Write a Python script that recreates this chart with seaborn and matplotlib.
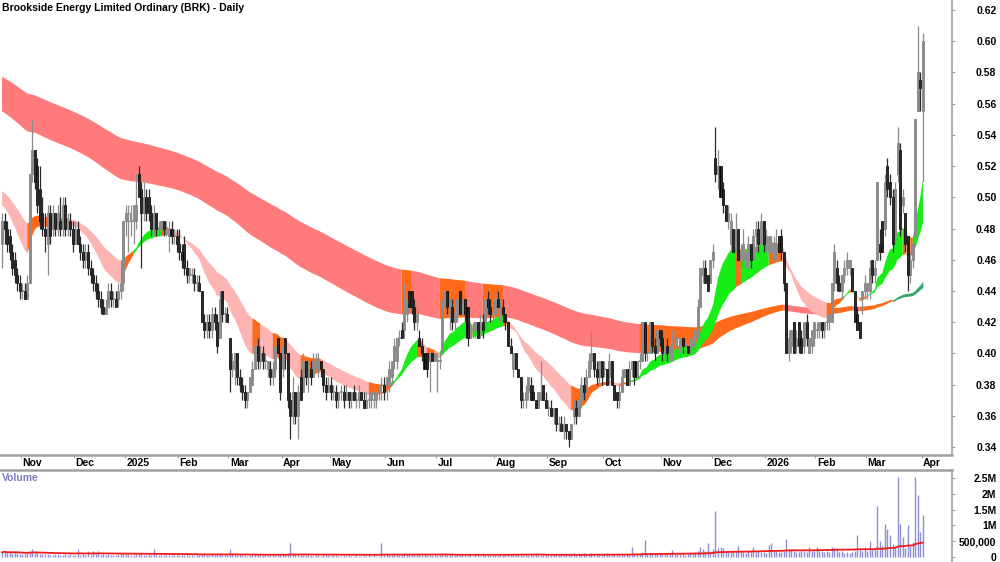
import numpy as np
import pandas as pd
import matplotlib
matplotlib.use("Agg")
import matplotlib.pyplot as plt
import seaborn as sns

# ---------------- data ----------------
# prices in cents, volumes in thousands, one value per trading day (Oct 22 2024 .. Apr 1 2026)
title = "Brookside Energy Limited Ordinary (BRK) - Daily"
holidays = ["2024-12-25", "2024-12-26", "2025-01-01", "2025-01-27", "2025-04-18", "2025-04-21",
            "2025-04-25", "2025-06-09", "2025-12-25", "2025-12-26", "2026-01-01", "2026-01-26"]

opens = [
    47, 48.5, 48, 47.5, 46.5, 46, 45, 44.5,
    44, 44, 43.5, 44.5, 51.5, 53, 52, 50.5, 49, 48, 47, 49, 48, 49, 48, 48.5, 48, 49.5, 48, 48.5, 48,
    47, 48, 47, 46.5, 46, 46.5, 45.5, 45, 44.5, 44, 43.5, 43, 42.5, 43, 44, 43.5, 43.5, 43.5, 44, 44.5,
    48.5, 48.5, 48.5, 48.5, 48.5, 51.5, 50.5, 49, 50, 50, 49, 48, 49, 48, 48, 48.5, 48, 47.5, 48, 47.5, 47.5,
    47, 46.5, 47, 45.5, 45, 45, 45, 44.5, 44.5, 44, 42, 41.5, 42, 41.5, 42.5, 42, 41, 44, 42.5, 42.5,
    41, 39, 39, 40, 38.5, 38, 37.5, 37, 37.5, 38, 39, 40.5, 39.5, 40, 39.5, 39, 39, 38.5, 39, 41, 40,
    39, 41, 40, 37, 36, 37.5, 36, 38.5, 37.5, 39.5, 38.5, 39, 38.5, 39.5, 39, 39.5, 39, 38, 37.5,
    38, 37.5, 37.5, 37, 37.5, 37.5, 37, 37.5, 37, 37.5, 37, 37, 37.5, 37, 36.5, 37, 37, 37, 37, 37.5, 37.5, 38,
    38, 38, 38.5, 39.5, 39.5, 41, 41.5, 41.5, 42.5, 44, 44, 43, 42, 41, 40.5, 40, 40, 39.5, 40, 39.5,
    39.5, 39.5, 40, 43, 44, 42.5, 43, 42, 42.5, 44, 42.5, 43.5, 43, 41, 41.5, 41.5, 42, 41.5, 42, 42, 43.5, 43, 42.5,
    42.5, 43.5, 43, 43, 42.5, 42, 40.5, 39, 40, 39, 38.5, 37, 37, 37.5, 38, 37.5, 37, 36.5, 37, 38, 37,
    36.5, 36.5, 36, 36.5, 35.5, 35.5, 35, 35.5, 35, 34.5, 36, 36.5, 36, 37, 38, 37.5, 38.5, 39.5, 40, 39, 38.5, 39.5,
    39, 39, 38.5, 39.5, 38, 37.5, 37, 37.5, 38.5, 39, 38, 39, 39.5, 38.5, 39.5, 39.5, 42, 40, 40, 42, 40.5, 40, 41.5,
    41, 40, 40.5, 40, 40, 41, 40.5, 40.5, 41, 40.5, 40.5, 40, 40.5, 41, 41, 43, 45, 45.5, 45, 44.5,
    46, 52.5, 51.5, 52, 50.5, 49.5, 48.5, 47, 48, 46.5, 48, 46, 46, 46, 46.5, 47, 46, 47.5, 48, 47, 48.5,
    47, 46.5, 46.5, 46.5, 46.5, 47.5, 47.5, 46.5, 44.5, 40, 40.5, 42, 40.5, 42, 41, 40.5, 42, 40, 40.5, 41,
    41.5, 41.5, 42, 41.5, 42, 42, 42, 44.5, 45.5, 44.5, 44, 45, 45.5, 45.5, 45.5, 44, 42.5, 42, 43.5, 44,
    44, 44, 46, 45, 46, 47, 48.5, 48, 52, 51, 50, 47.5, 51.5, 53, 49.5, 49, 47.5, 45, 46, 47.5, 55.5, 57.5,
    55.5,
]
highs = [
    49, 49, 48.5, 48, 47, 46.5, 45.5, 45,
    44.5, 44.5, 45, 51.5, 55, 53, 52.5, 52, 50, 49, 49.5, 49.5, 49.5, 49, 49.5, 50, 50, 50, 49, 49, 48.5,
    48.5, 48.5, 47.5, 47, 47, 47, 46, 45.5, 45, 44.5, 44, 43.5, 43.5, 44.5, 44.5, 44, 44, 44.5, 45, 48.5,
    49.5, 49.5, 49.5, 49.5, 51.5, 52, 51, 51, 50.5, 50.5, 49.5, 49.5, 49, 48.5, 48.5, 48.5, 48.5, 48.5, 48.5, 48, 48,
    48, 47, 47.5, 46, 45.5, 45.5, 45.5, 45, 45, 44, 42.5, 42.5, 42.5, 43, 43, 42.5, 44, 44, 43, 43,
    41, 40, 40, 40, 39, 38.5, 38, 37.5, 38.5, 39.5, 40.5, 41, 40.5, 40.5, 40, 39.5, 39.5, 39.5, 41, 41, 40,
    41, 41, 40, 37.5, 38.5, 37.5, 38, 39, 40, 39.5, 39.5, 39.5, 40, 40, 40, 39.5, 39, 38.5, 38.5,
    38.5, 38, 38, 37.5, 38, 38, 38, 37.5, 37.5, 38, 37.5, 38, 37.5, 37.5, 37.5, 37.5, 37.5, 37.5, 37.5, 38, 38.5, 38.5,
    38.5, 39.5, 39.5, 41, 41, 41.5, 42, 44.5, 44, 44, 44, 43.5, 43, 41.5, 41, 40, 40, 40, 40, 40,
    40, 40, 43.5, 44, 44, 43.5, 43.5, 43, 44, 44, 43.5, 43.5, 43, 42, 42, 42, 42, 42.5, 42.5, 43.5, 44, 43.5, 43,
    44, 44, 43.5, 43.5, 42.5, 42, 41, 40, 40, 39, 38.5, 37.5, 38, 38.5, 38.5, 38, 37, 37.5, 39.5, 38, 37.5,
    37, 37, 36.5, 36.5, 36, 36, 36, 35.5, 35, 35.5, 37, 37, 37.5, 38.5, 38.5, 39, 40, 41.5, 40, 39.5, 39.5, 39.5,
    39.5, 39, 40, 39.5, 38, 37.5, 38, 39, 39, 39, 39.5, 39.5, 39.5, 39.5, 40, 42, 42, 40.5, 42, 42, 41, 41.5, 41.5,
    41.5, 41, 41, 40.5, 41.5, 41.5, 41, 41, 41, 41, 40.5, 41, 41, 41.5, 43.5, 45.5, 46, 46, 45, 46,
    47, 54.5, 53, 52, 51, 49.5, 49.5, 49, 48, 49, 48, 47, 48, 46.5, 47.5, 47, 48, 48.5, 48.5, 49, 48.5,
    48, 47.5, 47.5, 47.5, 48, 47.5, 48, 46.5, 44.5, 41.5, 41.5, 42, 41.5, 42, 41.5, 42, 42.5, 41, 41.5, 42,
    42, 42, 42, 42, 42.5, 42.5, 44.5, 47, 46, 45, 45, 46, 46.5, 46, 45.5, 44, 43, 42, 44, 45,
    44.5, 46, 46, 46, 51, 48, 48.5, 51.5, 52.5, 51.5, 50.5, 51, 54.5, 53.5, 50.5, 49, 47.5, 46.5, 47.5, 55, 61, 58,
    60.5,
]
lows = [
    45.5, 47, 46.5, 46, 45, 44.5, 44, 43.5,
    43.5, 43.5, 43.5, 44.5, 51, 50.5, 49, 48, 47.5, 46.5, 45, 47, 47.5, 47.5, 47.5, 47.5, 47.5, 47.5, 47.5, 47.5, 46.5,
    47, 47, 46, 45.5, 45.5, 45, 44.5, 44, 43.5, 43, 42.5, 42.5, 42.5, 43, 43, 43, 43, 43, 43.5, 44,
    47.5, 46.5, 47.5, 47, 48, 50, 45.5, 48.5, 48.5, 48.5, 47.5, 47.5, 47.5, 47.5, 47.5, 47.5, 47.5, 46.5, 47, 47, 46.5,
    46, 45.5, 45, 44.5, 44.5, 44.5, 44, 44, 44, 42, 41, 41, 41, 41, 41.5, 40, 41, 42, 42, 42,
    37.5, 38.5, 38, 38, 37.5, 37, 36.5, 36.5, 37.5, 38, 39, 39, 39, 39, 39, 38.5, 38, 38, 38.5, 40, 37,
    38.5, 39, 36.5, 34.5, 35.5, 35.5, 34.5, 37, 37.5, 38, 37.5, 38, 38.5, 39, 38.5, 38.5, 37.5, 37, 37.5,
    37, 37, 36.5, 36.5, 37, 36.5, 37, 36.5, 36.5, 37, 36.5, 36.5, 37, 36.5, 36.5, 36.5, 36.5, 36.5, 36.5, 37, 37, 37,
    37, 37.5, 38, 39, 39, 40.5, 41, 41, 42, 43, 42.5, 41.5, 41.5, 40.5, 39.5, 39, 38.5, 37.5, 39.5, 39.5,
    37.5, 39, 40, 42.5, 42.5, 41.5, 41.5, 41.5, 42, 42.5, 42.5, 42, 40.5, 41, 41, 41, 41, 41, 41, 41.5, 42.5, 42, 42,
    42.5, 43, 42, 42, 41.5, 40.5, 40, 38.5, 39, 38.5, 36.5, 36.5, 36.5, 37, 37, 37, 36.5, 36.5, 37, 37, 36.5,
    36, 36, 35.5, 35, 35, 35, 34.5, 34.5, 34, 34.5, 35.5, 35.5, 36, 36.5, 37, 37.5, 38.5, 39, 38.5, 38, 38, 38,
    38.5, 38, 38, 38, 37, 36.5, 36.5, 37.5, 38.5, 38, 38, 38.5, 38, 38.5, 39, 39.5, 39.5, 39.5, 40, 40, 39.5, 40, 40.5,
    39.5, 39.5, 39.5, 39.5, 39.5, 40.5, 40, 40, 40, 40, 40, 40, 40, 40.5, 41, 43, 44.5, 44.5, 44, 44.5,
    45.5, 51, 50.5, 50, 49, 48.5, 48, 46.5, 46.5, 46.5, 46, 45.5, 45.5, 45.5, 45.5, 45.5, 46, 46.5, 46.5, 47, 46.5,
    46.5, 46, 46, 46, 46, 46.5, 46, 44, 40, 39.5, 40, 40, 40, 40, 40, 40, 40.5, 40, 40, 40.5,
    41, 41, 41, 41, 41.5, 41.5, 42, 44, 44, 44, 43.5, 44.5, 45, 45, 44, 42, 41.5, 41, 42.5, 43.5,
    43.5, 43.5, 44.5, 44.5, 46, 46, 46.5, 47.5, 50, 49.5, 46.5, 47, 51, 47.5, 49, 46.5, 44, 44.5, 45.5, 47.5, 55.5, 55.5,
    51,
]
closes = [
    48.5, 48, 47, 46.5, 45.5, 45, 44.5, 44,
    44, 43.5, 44.5, 51.5, 53, 51, 49.5, 48.5, 48, 47.5, 49, 47.5, 49, 48, 49, 48, 49.5, 48, 48.5, 48, 47,
    48, 47, 46.5, 46, 46.5, 45.5, 45, 44.5, 44, 43.5, 43, 42.5, 43, 44, 43.5, 43.5, 43, 44, 44.5, 48.5,
    49, 49, 48.5, 49.5, 49.5, 50, 49, 50, 49, 49, 48, 49, 48, 48, 48.5, 48, 48, 48, 47.5, 47.5, 47,
    46.5, 46, 45.5, 45, 45.5, 45, 44.5, 44.5, 44, 42, 41.5, 42, 41.5, 42.5, 42, 40.5, 43.5, 42.5, 42.5, 42,
    39, 39.5, 40, 38.5, 38, 37.5, 37, 37.5, 38.5, 39, 40.5, 39.5, 40, 39.5, 39.5, 39.5, 38.5, 39, 40.5, 40, 37.5,
    40.5, 40, 37, 36, 37.5, 36, 37.5, 37, 39.5, 38.5, 39, 38.5, 39.5, 39.5, 39.5, 39, 38, 37.5, 38,
    37.5, 37.5, 37, 37.5, 37.5, 37, 37.5, 37, 37.5, 37, 37, 37.5, 37, 36.5, 37, 37, 37.5, 37, 37.5, 37.5, 38, 37.5,
    38.5, 39, 39.5, 40.5, 41, 41, 41, 43.5, 43.5, 43, 43, 42, 42.5, 40.5, 40, 39, 39, 40, 39.5, 40,
    39.5, 39.5, 43, 44, 43, 43.5, 42, 42.5, 43.5, 42.5, 43.5, 42.5, 41, 41.5, 41.5, 42, 41, 42, 41.5, 43.5, 43, 42.5, 42.5,
    43.5, 43, 43, 42.5, 42, 40.5, 40, 40, 39, 38.5, 37, 37, 37.5, 38.5, 37, 37, 36.5, 37.5, 37.5, 37, 36.5,
    36.5, 36, 36.5, 35.5, 35.5, 35, 35.5, 35, 34.5, 35.5, 36.5, 36, 37, 38, 37.5, 38.5, 39.5, 40, 39, 38.5, 39.5, 38.5,
    39, 38, 39.5, 38, 37, 37, 37.5, 38.5, 39, 38, 39, 39.5, 38.5, 39.5, 39.5, 42, 40, 40, 42, 40.5, 40, 41.5, 41,
    40, 40.5, 40, 40.5, 41, 41, 41, 41, 40.5, 40.5, 40, 41, 41, 41.5, 43, 45.5, 45.5, 44.5, 44, 46,
    46.5, 51.5, 52, 50, 49.5, 48.5, 49, 48.5, 46.5, 48, 46, 46.5, 47, 46.5, 47, 46, 47.5, 48, 47, 48.5, 47,
    47.5, 47.5, 47, 47, 47, 46.5, 46.5, 44.5, 40, 41, 41.5, 40, 41, 40.5, 40, 42, 41, 41, 41.5, 42,
    41.5, 42, 41.5, 42, 42, 42.5, 44.5, 46.5, 44.5, 44, 45, 45.5, 46, 46, 44, 42, 41.5, 41, 44, 44.5,
    44.5, 45.5, 45, 45.5, 51, 46.5, 46.5, 51, 50.5, 50, 47, 50.5, 53.5, 48, 50, 47, 45, 46, 47, 55, 58, 57,
    60,
]
volumes = [
    150, 180, 120, 160, 140, 170, 130, 110,
    90, 80, 130, 200, 240, 150, 120, 100, 90, 80, 110, 70, 60, 90, 80, 70, 60, 80, 70, 90, 60,
    70, 240, 60, 80, 70, 200, 60, 200, 80, 190, 70, 90, 60, 80, 50, 70, 60, 110, 120, 100,
    90, 80, 70, 60, 90, 80, 110, 70, 60, 80, 60, 240, 70, 60, 50, 70, 60, 50, 60, 70, 50,
    60, 50, 70, 60, 50, 60, 40, 60, 50, 90, 70, 60, 50, 80, 60, 70, 90, 60, 50, 70,
    240, 80, 60, 70, 90, 50, 60, 40, 70, 60, 90, 80, 60, 70, 50, 60, 50, 60, 70, 60, 100,
    90, 80, 120, 450, 130, 90, 110, 70, 60, 70, 50, 60, 40, 50, 60, 40, 50, 60, 70,
    40, 50, 60, 40, 30, 50, 40, 60, 30, 40, 50, 40, 30, 50, 40, 60, 40, 50, 30, 40, 450, 90,
    80, 110, 90, 120, 100, 70, 90, 130, 110, 90, 80, 70, 60, 80, 70, 90, 60, 70, 50, 60,
    60, 50, 120, 90, 70, 80, 60, 70, 90, 60, 50, 70, 60, 50, 40, 60, 50, 40, 60, 70, 60, 50, 60,
    70, 60, 50, 60, 80, 90, 70, 60, 80, 70, 60, 50, 60, 70, 50, 60, 120, 70, 60, 50, 60,
    70, 60, 80, 70, 60, 90, 80, 110, 90, 100, 120, 90, 80, 110, 130, 100, 90, 120, 80, 70, 90, 80,
    100, 120, 90, 80, 110, 70, 90, 80, 100, 90, 80, 325, 100, 120, 90, 150, 540, 110, 90, 120, 100, 130, 110,
    90, 120, 100, 80, 220, 90, 110, 80, 100, 70, 90, 120, 110, 150, 180, 330, 250, 180, 430, 200,
    250, 1450, 280, 320, 300, 200, 160, 180, 150, 200, 350, 170, 150, 140, 180, 170, 330, 160, 200, 170, 150,
    120, 380, 450, 200, 180, 160, 150, 200, 560, 260, 220, 180, 160, 150, 200, 180, 170, 330, 200, 180,
    330, 200, 180, 150, 200, 170, 330, 280, 300, 150, 180, 120, 160, 130, 150, 200, 700, 250, 180, 330,
    200, 500, 250, 300, 1620, 500, 350, 1040, 900, 700, 400, 350, 2540, 1040, 640, 300, 1000, 350, 480, 2540, 1960, 800,
    1330,
]

# ribbon settings: EMA periods and the levels they start from at the left edge
short_periods = [18, 22, 26, 30, 35, 40]
short_seeds = [0.496, 0.498, 0.500, 0.501, 0.503, 0.505]
long_periods = [150, 165, 180, 195, 210, 225]
long_seeds = [0.556, 0.560, 0.565, 0.569, 0.574, 0.578]
volume_ma_window = 65

price_ticks = [0.34, 0.36, 0.38, 0.40, 0.42, 0.44, 0.46, 0.48, 0.50, 0.52, 0.54, 0.56, 0.58, 0.60, 0.62]
vol_ticks = [0, 500000, 1000000, 1500000, 2000000, 2500000]
vol_tick_labels = ["0", "500,000", "1M", "1.5M", "2M", "2.5M"]

# ---------------- prep ----------------
dates = pd.bdate_range("2024-10-22", "2026-04-01")
dates = dates[~dates.isin(pd.to_datetime(holidays))]
n = len(dates)
lens = [len(opens), len(highs), len(lows), len(closes), len(volumes)]
assert all(k == n for k in lens), (n, lens)

x = np.arange(n)
o = np.array(opens) / 100
h = np.array(highs) / 100
l = np.array(lows) / 100
c = np.array(closes) / 100
vol = np.array(volumes) * 1000.0
vol_ma = pd.Series(vol).rolling(volume_ma_window, min_periods=1).mean().values

per = dates.to_period("M")
starts = np.flatnonzero(np.r_[False, np.asarray(per[1:] != per[:-1])])
month_labels = [str(d.year) if d.month == 1 else d.strftime("%b") for d in dates[starts]]


def ema(values, period, seed):
    a = 2.0 / (period + 1)
    out = np.empty(len(values))
    prev = seed
    for i, v in enumerate(values):
        prev = prev + a * (v - prev)
        out[i] = prev
    return out


def ribbon(ax, periods, seeds, colors):
    # columns ordered fast -> slow
    lines = np.column_stack([ema(c, p, s) for p, s in zip(periods, seeds)])
    lo, hi = lines.min(axis=1), lines.max(axis=1)
    d = np.vstack([lines[1] - lines[0], np.diff(lines, axis=0)])
    all_up = (d > 0).all(axis=1)
    all_down = (d < 0).all(axis=1)
    fast_on_top = lines[:, 0] > lines[:, -1]
    state = np.where(all_up & fast_on_top, 2, np.where(all_down, 0, 1))
    for s, col in colors.items():
        m = state == s
        m = m | np.r_[m[1:], False]
        ax.fill_between(x, lo, hi, where=m, color=col, lw=0, interpolate=False)


# ---------------- plot ----------------
sns.set_theme(style="white")
plt.rcParams["font.family"] = ["Liberation Sans", "DejaVu Sans"]
plt.rcParams["font.weight"] = "bold"

W, H = 1000, 562
fig = plt.figure(figsize=(W / 100, H / 100), dpi=100)
ax = fig.add_axes([0, 1 - 455 / H, 952 / W, 455 / H])
axv = fig.add_axes([0, 0, 952 / W, 92 / H])

ribbon(ax, long_periods, long_seeds, {0: "#ff7a7a", 1: "#ff6a1a", 2: "#38a56c"})
ribbon(ax, short_periods, short_seeds, {0: "#ffb4b4", 1: "#ff6a1a", 2: "#16ee16"})

up = c >= o
body_lo = np.minimum(o, c)
body_h = np.maximum(np.abs(c - o), 0.0007)
ax.vlines(x[up], l[up], h[up], color="#8c8c8c", lw=0.9)
ax.vlines(x[~up], l[~up], h[~up], color="#2a2a2a", lw=0.9)
ax.bar(x[up], body_h[up], bottom=body_lo[up], width=0.8, color="white", edgecolor="#8c8c8c", lw=0.7)
ax.bar(x[~up], body_h[~up], bottom=body_lo[~up], width=0.8, color="black", edgecolor="black", lw=0.5)

xlim = (-0.79, 375.5)
ax.set_xlim(*xlim)
ax.set_ylim(0.3349, 0.6264)

grey = "#a0a0a0"
for a in (ax, axv):
    a.spines["left"].set_visible(False)
    a.spines["right"].set_color(grey)
    a.spines["right"].set_linewidth(1.2)
    a.yaxis.tick_right()
ax.spines["top"].set_visible(False)
ax.spines["bottom"].set_color(grey)
ax.spines["bottom"].set_linewidth(1.8)
axv.spines["bottom"].set_visible(False)
axv.spines["top"].set_color(grey)
axv.spines["top"].set_linewidth(1.8)

ax.set_yticks(price_ticks)
ax.set_yticklabels([f"{t:.2f}" for t in price_ticks])
ax.tick_params(axis="y", right=True, left=False, direction="out", length=2, width=0.8,
               color=grey, pad=30, labelsize=7.5, labelcolor="black")
for lab in ax.get_yticklabels():
    lab.set_ha("right")
    lab.set_fontweight("bold")

ax.set_xticks(starts - 0.5)
ax.set_xticklabels([])
ax.tick_params(axis="x", bottom=True, direction="out", length=2.5, width=0.8, color=grey)
for s, lab in zip(starts, month_labels):
    ax.text(s + 0.1, -0.0175, lab, transform=ax.get_xaxis_transform(), ha="left", va="center",
            fontsize=7.5, fontweight="bold", color="black", clip_on=False)

# volume panel
axv.vlines(x, 0, vol, color="#8e8ed8", lw=1.0)
sns.lineplot(x=x, y=vol_ma, ax=axv, color="#ee1c1c", lw=1.3)
axv.set_xlim(*xlim)
axv.set_ylim(-158000, 2753000)
axv.set_xticks([])
axv.set_yticks(vol_ticks)
axv.set_yticklabels(vol_tick_labels)
axv.tick_params(axis="y", right=True, left=False, direction="out", length=2, width=0.8,
                color=grey, pad=30, labelsize=7.5, labelcolor="black")
for lab in axv.get_yticklabels():
    lab.set_ha("right")
    lab.set_fontweight("bold")
axv.set_xlabel("")
axv.set_ylabel("")

fig.text(2 / W, 1 - 8 / H, title, ha="left", va="center", fontsize=7.5, fontweight="bold", color="black")
fig.text(2 / W, 1 - 478 / H, "Volume", ha="left", va="center", fontsize=7.5, fontweight="bold", color="#7b7bc0")

fig.savefig("out.png", dpi=100)
